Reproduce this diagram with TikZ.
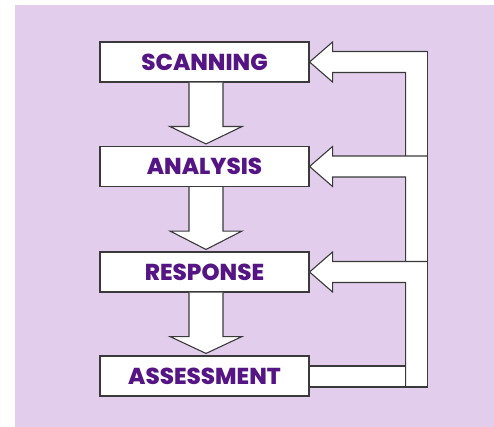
\documentclass[tikz,border=0pt]{standalone}
\usepackage{fontspec}
\usetikzlibrary{calc}
\newfontfamily\popfont{Poppins ExtraBold}
\definecolor{lav}{HTML}{E2CEEC}
\definecolor{txtpurple}{HTML}{561585}
\definecolor{edge}{HTML}{3A3A3A}
\tikzset{
  stagebox/.style={draw=edge, line width=1.1pt, fill=white, minimum width=209pt, minimum height=40pt, inner sep=0pt, text=txtpurple, font=\popfont\fontsize{23}{23}\selectfont},
  blockline/.style={draw=edge, line width=1.1pt, line join=miter},
}
\begin{document}
\begin{tikzpicture}[x=1pt,y=-1pt]
\useasboundingbox (0,0) rectangle (494,427);
\fill[white] (0,0) rectangle (494,427);
\fill[lav] (15,5) rectangle (494,427);

% stage boxes
\node[stagebox] (scan) at (204.5,62) {SCANNING};
\node[stagebox] (anal) at (204.5,166.5) {ANALYSIS};
\node[stagebox] (resp) at (204.5,272) {RESPONSE};
\node[stagebox] (asse) at (204.5,376) {ASSESSMENT};

% downward block arrows
\foreach \a/\b in {scan/anal, anal/resp, resp/asse}{
  \filldraw[blockline, fill=white]
    ($(\a.south)+(-15.5,0)$) -- ($(\a.south)+(-15.5,44)$) -- ($(\a.south)+(-34.5,44)$)
    -- ($(\b.north)+(1.5,-2)$)
    -- ($(\a.south)+(37.5,44)$) -- ($(\a.south)+(18.5,44)$) -- ($(\a.south)+(18.5,0)$);
}

% feedback block arrows: white fill
\fill[white] ($(scan.east)+(96,-10.5)$) rectangle ($(asse.east)+(118,11)$);
\fill[white] ($(asse.east)+(0,-10)$) rectangle ($(asse.east)+(118,11)$);
\foreach \n in {scan, anal, resp}{
  \fill[white] ($(\n.east)+(118,-10.5)$) -- ($(\n.east)+(23,-10.5)$) -- ($(\n.east)+(23,-20)$)
    -- (\n.east) -- ($(\n.east)+(23,20)$) -- ($(\n.east)+(23,10.5)$) -- ($(\n.east)+(118,10.5)$) -- cycle;
}
% feedback block arrows: outlines
\foreach \n/\m/\d in {scan/anal/-10.5, anal/resp/-10.5, resp/asse/11}{
  \draw[blockline] ($(\n.east)+(118,-10.5)$) -- ($(\n.east)+(23,-10.5)$) -- ($(\n.east)+(23,-20)$)
    -- (\n.east) -- ($(\n.east)+(23,20)$) -- ($(\n.east)+(23,10.5)$) -- ($(\n.east)+(96,10.5)$)
    -- ($(\m.east)+(96,\d)$);
}
\draw[blockline] ($(asse.east)+(0,-10)$) -- ($(asse.east)+(96,-10)$);
\draw[blockline] ($(asse.east)+(0,11)$) -- ($(asse.east)+(118,11)$) -- ($(scan.east)+(118,-10.5)$);
\end{tikzpicture}
\end{document}
